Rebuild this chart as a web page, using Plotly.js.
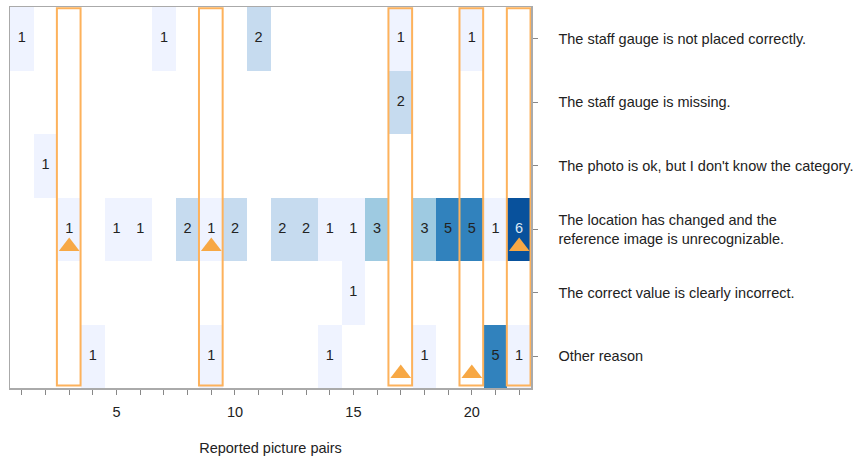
<!DOCTYPE html>
<html>
<head>
<meta charset="utf-8">
<script src="https://cdn.plot.ly/plotly-3.0.1.min.js"></script>
<style>html,body{margin:0;padding:0;background:#fff;}#chart{width:854px;height:461px;}</style>
</head>
<body>
<div id="chart"></div>
<script>
// Categories (rows, top to bottom)
const categories = [
  "The staff gauge is not placed correctly.",
  "The staff gauge is missing.",
  "The photo is ok, but I don't know the category.",
  "The location has changed and the<br>reference image is unrecognizable.",
  "The correct value is clearly incorrect.",
  "Other reason"
];
// Picture pairs 1..22
const pairs = [1,2,3,4,5,6,7,8,9,10,11,12,13,14,15,16,17,18,19,20,21,22];
// Counts per category (null = none reported)
const notPlaced   = [1,null,null,null,null,null,1,null,null,null,2,null,null,null,null,null,1,null,null,1,null,null];
const missing     = [null,null,null,null,null,null,null,null,null,null,null,null,null,null,null,null,2,null,null,null,null,null];
const photoOk     = [null,1,null,null,null,null,null,null,null,null,null,null,null,null,null,null,null,null,null,null,null,null];
const locChanged  = [null,null,1,null,1,1,null,2,1,2,null,2,2,1,1,3,null,3,5,5,1,6];
const incorrect   = [null,null,null,null,null,null,null,null,null,null,null,null,null,null,1,null,null,null,null,null,null,null];
const otherReason = [null,null,null,1,null,null,null,null,1,null,null,null,null,1,null,null,null,1,null,null,5,1];
// Highlighted picture pairs (orange boxes)
const highlighted = [3,9,17,20,22];
// Triangle markers: pair and category row index
const markerPairs = [3,9,17,20,22];
const markerRows  = [3,3,5,5,3];

const z = [notPlaced, missing, photoOk, locChanged, incorrect, otherReason];
const rowIdx = categories.map((c,i)=>i);

const blues = ['#eff3ff','#c6dbef','#9ecae1','#6baed6','#3182bd','#08519c'];
const colorscale = [];
blues.forEach((c,i)=>{ colorscale.push([i/6,c]); colorscale.push([(i+1)/6,c]); });

const tx=[], ty=[], tt=[], tc=[];
z.forEach((row,r)=>row.forEach((v,i)=>{
  if(v!==null){ tx.push(pairs[i]); ty.push(r); tt.push(String(v)); tc.push(v>=6?'#dbe8f5':'#222'); }
}));

const FONT = 'Liberation Sans, Arial, sans-serif';
const FS = 14.5;
const traces = [
  {type:'heatmap', x:pairs, y:rowIdx, z:z, colorscale:colorscale, zmin:0.5, zmax:6.5,
   showscale:false, hoverinfo:'skip'},
  {type:'scatter', mode:'text', x:tx, y:ty, text:tt,
   textfont:{family:FONT, size:FS, color:tc}, hoverinfo:'skip', showlegend:false},
  {type:'scatter', mode:'markers', x:markerPairs, y:markerRows.map(r=>r+0.27),
   marker:{symbol:'triangle-up', size:18, color:'#f7a845'}, hoverinfo:'skip', showlegend:false}
];

const shapes = highlighted.map(p=>({
  type:'rect', xref:'x', yref:'y', x0:p-0.52, x1:p+0.48, y0:-0.48, y1:5.46,
  line:{color:'#fdb25c', width:2}, fillcolor:'rgba(0,0,0,0)', layer:'above'
}));

const layout = {
  width:854, height:461,
  margin:{l:10, r:323, t:7, b:73},
  paper_bgcolor:'#fff', plot_bgcolor:'#fff',
  font:{family:FONT, size:FS, color:'#222'},
  showlegend:false,
  shapes:shapes,
  xaxis:{range:[0.5,22.5], tick0:0, dtick:5, ticks:'outside', ticklen:5, tickcolor:'#888',
    ticklabelstandoff:5,
    minor:{dtick:1, ticks:'outside', ticklen:5, tickcolor:'#888'},
    showgrid:false, zeroline:false, showline:true, linecolor:'#aaa', linewidth:1.5, mirror:true,
    tickfont:{size:FS, color:'#222'},
    title:{text:'Reported picture pairs', font:{size:FS, color:'#222'}, standoff:24}},
  yaxis:{side:'right', range:[5.5,-0.5], tickvals:rowIdx, ticktext:categories,
    ticks:'outside', ticklen:5, tickcolor:'#888', ticklabelstandoff:18,
    showgrid:false, zeroline:false, showline:true, linecolor:'#aaa', linewidth:1.5, mirror:true,
    tickfont:{size:FS, color:'#222'}}
};

Plotly.newPlot('chart', traces, layout, {displayModeBar:false, staticPlot:true});
</script>
</body>
</html>
